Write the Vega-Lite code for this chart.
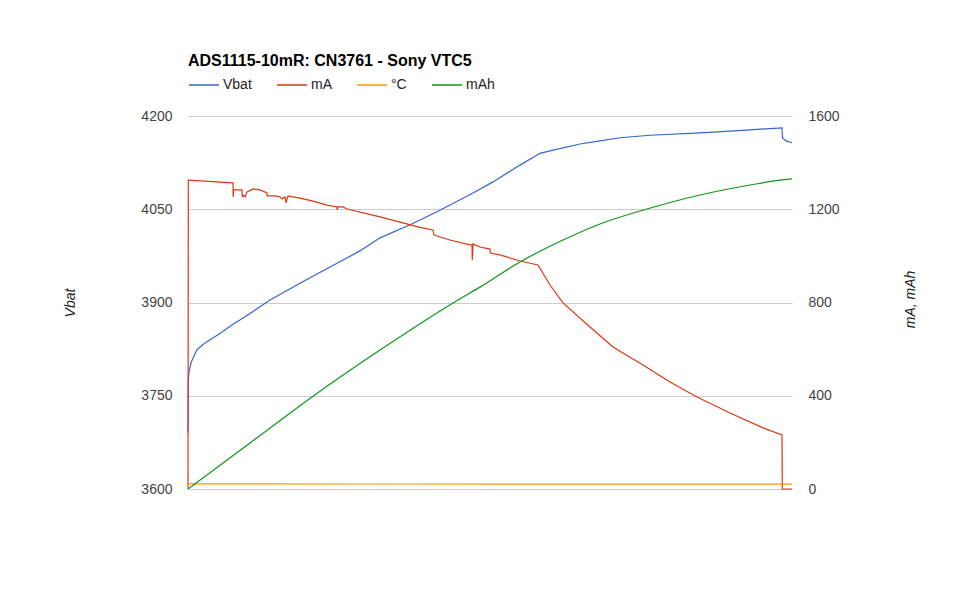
{
  "$schema": "https://vega.github.io/schema/vega-lite/v6.json",
  "width": 604,
  "height": 373,
  "autosize": {"type": "none"},
  "padding": {"left": 188, "top": 116, "right": 187, "bottom": 116},
  "background": "white",
  "title": {"text": "ADS1115-10mR: CN3761 - Sony VTC5", "anchor": "start", "frame": "group", "fontSize": 16, "fontWeight": "bold", "font": "Liberation Sans", "color": "#000000", "baseline": "alphabetic", "offset": -13},
  "config": {
    "view": {"stroke": null},
    "font": "Liberation Sans",
    "legend": {"orient": "none", "legendX": 0, "legendY": -47, "direction": "horizontal", "gridAlign": "none", "symbolType": "stroke", "symbolSize": 900, "symbolStrokeWidth": 1.5, "labelFontSize": 14, "labelColor": "#222222", "labelFont": "Liberation Sans", "labelOffset": 3, "columnPadding": 22, "padding": 0}
  },
  "datasets": {
    "vbat": [
      {"t": 0, "v": 3690}, {"t": 0.15, "v": 3775}, {"t": 0.5, "v": 3788}, {"t": 1.5, "v": 3803}, {"t": 3, "v": 3814}, {"t": 4.5, "v": 3824}, {"t": 8.5, "v": 3835}, {"t": 15, "v": 3848}, {"t": 22.5, "v": 3865}, {"t": 28.5, "v": 3877}, {"t": 41, "v": 3904}, {"t": 56, "v": 3931}, {"t": 71, "v": 3957}, {"t": 86, "v": 3983}, {"t": 96, "v": 4004}, {"t": 111, "v": 4025}, {"t": 124.5, "v": 4046}, {"t": 142.5, "v": 4076}, {"t": 152.5, "v": 4094}, {"t": 166, "v": 4121}, {"t": 176, "v": 4140}, {"t": 182.5, "v": 4145}, {"t": 196, "v": 4155}, {"t": 206, "v": 4160}, {"t": 216, "v": 4165}, {"t": 231, "v": 4169}, {"t": 256, "v": 4173}, {"t": 277.5, "v": 4177}, {"t": 297, "v": 4181}, {"t": 297.25, "v": 4165}, {"t": 299, "v": 4160}, {"t": 302, "v": 4157}
    ],
    "ma": [
      {"t": 0, "v": 0}, {"t": 0.15, "v": 1325}, {"t": 22.5, "v": 1313}, {"t": 22.6, "v": 1253}, {"t": 22.8, "v": 1283}, {"t": 27, "v": 1283}, {"t": 27.15, "v": 1253}, {"t": 27.5, "v": 1261}, {"t": 28.5, "v": 1253}, {"t": 29.5, "v": 1274}, {"t": 32.5, "v": 1287}, {"t": 36, "v": 1283}, {"t": 39.5, "v": 1270}, {"t": 39.6, "v": 1257}, {"t": 43.5, "v": 1257}, {"t": 46, "v": 1253}, {"t": 47, "v": 1244}, {"t": 48.5, "v": 1253}, {"t": 49, "v": 1227}, {"t": 50, "v": 1257}, {"t": 52.5, "v": 1253}, {"t": 56, "v": 1248}, {"t": 62.5, "v": 1235}, {"t": 69.5, "v": 1218}, {"t": 74.5, "v": 1210}, {"t": 74.6, "v": 1197}, {"t": 75, "v": 1210}, {"t": 77.5, "v": 1210}, {"t": 79.5, "v": 1201}, {"t": 96, "v": 1167}, {"t": 106, "v": 1145}, {"t": 116, "v": 1122}, {"t": 122.5, "v": 1111}, {"t": 123, "v": 1090}, {"t": 126, "v": 1081}, {"t": 131, "v": 1068}, {"t": 141, "v": 1047}, {"t": 142, "v": 1047}, {"t": 142.15, "v": 982}, {"t": 142.5, "v": 1051}, {"t": 146, "v": 1038}, {"t": 151, "v": 1029}, {"t": 151.15, "v": 1012}, {"t": 156, "v": 1004}, {"t": 166, "v": 978}, {"t": 175, "v": 961}, {"t": 181, "v": 875}, {"t": 187.5, "v": 798}, {"t": 201, "v": 695}, {"t": 212.5, "v": 609}, {"t": 227.5, "v": 532}, {"t": 241, "v": 459}, {"t": 254.5, "v": 395}, {"t": 271, "v": 326}, {"t": 287.5, "v": 262}, {"t": 297, "v": 232}, {"t": 297.15, "v": 0}, {"t": 302, "v": 0}
    ],
    "temp": [
      {"t": 0, "v": 22}, {"t": 100, "v": 21.5}, {"t": 200, "v": 21}, {"t": 302, "v": 20.5}
    ],
    "mah": [
      {"t": 0, "v": 0}, {"t": 31, "v": 197}, {"t": 62, "v": 395}, {"t": 96, "v": 596}, {"t": 135, "v": 811}, {"t": 146, "v": 866}, {"t": 166, "v": 974}, {"t": 187.5, "v": 1068}, {"t": 206, "v": 1137}, {"t": 229.5, "v": 1201}, {"t": 256, "v": 1261}, {"t": 281, "v": 1304}, {"t": 296, "v": 1325}, {"t": 302, "v": 1330}
    ]
  },
  "layer": [
    {
      "data": {"name": "vbat"},
      "mark": {"type": "line", "strokeWidth": 1.2, "interpolate": "linear"},
      "encoding": {
        "x": {"field": "t", "type": "quantitative", "scale": {"domain": [0, 302], "nice": false, "zero": false},
              "axis": {"orient": "bottom", "labels": false, "ticks": false, "grid": false, "domain": true, "domainColor": "#333333", "domainWidth": 1, "title": "Time", "titleFontStyle": "italic", "titleFontWeight": "normal", "titleFontSize": 14, "titleColor": "#222222", "titleFont": "Liberation Sans", "titleX": 302, "titleY": 69, "titleAlign": "center", "titleBaseline": "middle"}},
        "y": {"field": "v", "type": "quantitative", "scale": {"domain": [3600, 4200], "nice": false, "zero": false},
              "axis": {"orient": "left", "values": [3600, 3750, 3900, 4050, 4200], "format": "d", "grid": true, "gridColor": "#cccccc", "gridWidth": 1, "domain": false, "ticks": false, "labelPadding": 16, "labelFontSize": 14, "labelColor": "#444444", "labelFont": "Liberation Sans", "title": "Vbat", "titleFontStyle": "italic", "titleFontWeight": "normal", "titleFontSize": 14, "titleColor": "#222222", "titleFont": "Liberation Sans", "titleAngle": 270, "titleX": -118, "titleY": 186.5, "titleAlign": "center", "titleBaseline": "middle"}},
        "color": {"datum": "Vbat", "type": "nominal", "scale": {"domain": ["Vbat", "mA", "°C", "mAh"], "range": ["#3366cc", "#dc3912", "#ff9900", "#109618"]}, "legend": {"title": null}}
      }
    },
    {
      "layer": [
        {
          "data": {"name": "ma"},
          "mark": {"type": "line", "strokeWidth": 1.2},
          "encoding": {
            "x": {"field": "t", "type": "quantitative", "axis": null},
            "y": {"field": "v", "type": "quantitative", "scale": {"domain": [0, 1600], "nice": false},
                  "axis": {"orient": "right", "values": [0, 400, 800, 1200, 1600], "format": "d", "grid": false, "domain": false, "ticks": false, "labelPadding": 16, "labelFontSize": 14, "labelColor": "#444444", "labelFont": "Liberation Sans", "title": "mA, mAh", "titleFontStyle": "italic", "titleFontWeight": "normal", "titleFontSize": 14, "titleColor": "#222222", "titleFont": "Liberation Sans", "titleAngle": 270, "titleX": 118, "titleY": 183, "titleAlign": "center", "titleBaseline": "middle"}},
            "color": {"datum": "mA", "type": "nominal", "legend": {"title": null}}
          }
        },
        {
          "data": {"name": "temp"},
          "mark": {"type": "line", "strokeWidth": 1.2},
          "encoding": {
            "x": {"field": "t", "type": "quantitative", "axis": null},
            "y": {"field": "v", "type": "quantitative"},
            "color": {"datum": "°C", "type": "nominal", "legend": {"title": null}}
          }
        },
        {
          "data": {"name": "mah"},
          "mark": {"type": "line", "strokeWidth": 1.2, "interpolate": "monotone"},
          "encoding": {
            "x": {"field": "t", "type": "quantitative", "axis": null},
            "y": {"field": "v", "type": "quantitative"},
            "color": {"datum": "mAh", "type": "nominal", "legend": {"title": null}}
          }
        }
      ]
    }
  ],
  "resolve": {"scale": {"y": "independent"}}
}
